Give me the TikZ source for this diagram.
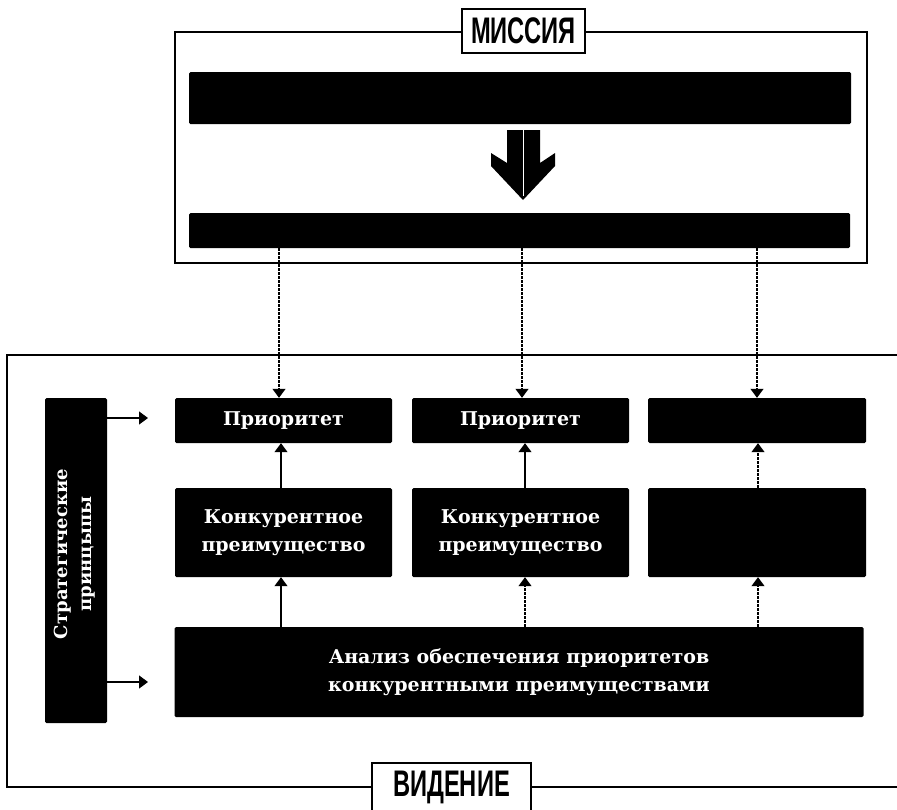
\documentclass[tikz,border=0pt]{standalone}
\usepackage{fontspec}
\setmainfont{DejaVu Serif}
\newfontfamily\labelfont[FakeStretch=0.64]{Liberation Sans}
\usetikzlibrary{arrows.meta}

\begin{document}
\begin{tikzpicture}[x=1pt,y=-1pt,
  blackbox/.style={fill=black,text=white,rounded corners=1.5pt,inner sep=0pt,
    align=center,font=\bfseries\fontsize{19}{28}\selectfont},
  frame/.style={draw=black,line width=2.5pt},
  tag/.style={draw=black,line width=2.5pt,fill=white,inner sep=0pt,
    font=\labelfont\bfseries\fontsize{37}{37}\selectfont},
  link/.style={line width=1.2pt,-{Triangle[width=13pt,length=9pt]}},
  dotlink/.style={link,dash pattern=on 2.5pt off 1.5pt}]

\clip (0,0) rectangle (897,809);

% column positions of the connectors
\coordinate (x1) at (279,0);
\coordinate (x2) at (522,0);
\coordinate (x3) at (757,0);
\coordinate (y1) at (281,0);
\coordinate (y2) at (525,0);
\coordinate (y3) at (758,0);

% ---------- mission block ----------
\node[frame,inner sep=0pt,minimum width=692pt,minimum height=231pt] (mframe) at (521,147.5) {};
\node[blackbox,minimum width=662pt,minimum height=52pt] (topbar) at (520,98) {};
\node[blackbox,minimum width=661pt,minimum height=35pt] (botbar) at (519.5,230.5) {};

% split block arrow between the two bars
\fill (507,130) -- (540,130) -- (540,163) -- (555,153) -- (555,166) -- (523,200)
      -- (491,166) -- (491,153) -- (507,163) -- cycle;
\draw[white,line width=1pt] (523,130) -- (523,196);

% ---------- vision frame ----------
\draw[frame] (897,355) -- (7,355) -- (7,787) -- (897,787);

% ---------- inner boxes ----------
\node[blackbox,minimum width=62pt,minimum height=325pt] (strat) at (76,560.5) {};
\node[blackbox,rotate=90,font=\bfseries\fontsize{18}{24}\selectfont] (strattext) at (75,554) {Стратегические\\принцыпы};

\node[blackbox,minimum width=217pt,minimum height=45pt] (p1) at (283.5,420.5) {Приоритет};
\node[blackbox,minimum width=217pt,minimum height=45pt] (p2) at (520.5,420.5) {Приоритет};
\node[blackbox,minimum width=218pt,minimum height=45pt] (p3) at (757,420.5) {};

\node[blackbox,minimum width=217pt,minimum height=89pt] (k1) at (283.5,532.5) {Конкурентное\\преимущество};
\node[blackbox,minimum width=217pt,minimum height=89pt] (k2) at (520.5,532.5) {Конкурентное\\преимущество};
\node[blackbox,minimum width=218pt,minimum height=89pt] (k3) at (757,532.5) {};

\node[blackbox,minimum width=689pt,minimum height=90pt] (an) at (519,672)
  {Анализ обеспечения приоритетов\\конкурентными преимуществами};

% ---------- labels on the frames ----------
\node[tag,minimum width=123pt,minimum height=44pt] (mtag) at (523.5,31) {МИССИЯ};
\node[tag,minimum width=159pt,minimum height=48pt] (vtag) at (451.5,787) {ВИДЕНИЕ};

% ---------- connectors ----------
\draw[dotlink] (botbar.south -| x1) -- (p1.north -| x1);
\draw[dotlink] (botbar.south -| x2) -- (p2.north -| x2);
\draw[dotlink] (botbar.south -| x3) -- (p3.north -| x3);

\draw[link] (k1.north -| y1) -- (p1.south -| y1);
\draw[link] (k2.north -| y2) -- (p2.south -| y2);
\draw[dotlink] (k3.north -| y3) -- (p3.south -| y3);

\draw[link] (an.north -| y1) -- (k1.south -| y1);
\draw[dotlink] (an.north -| y2) -- (k2.south -| y2);
\draw[dotlink] (an.north -| y3) -- (k3.south -| y3);

\coordinate (s1) at (148,418);
\coordinate (s2) at (148,682);
\draw[link] (strat.east |- s1) -- (s1);
\draw[link] (strat.east |- s2) -- (s2);
\end{tikzpicture}
\end{document}
